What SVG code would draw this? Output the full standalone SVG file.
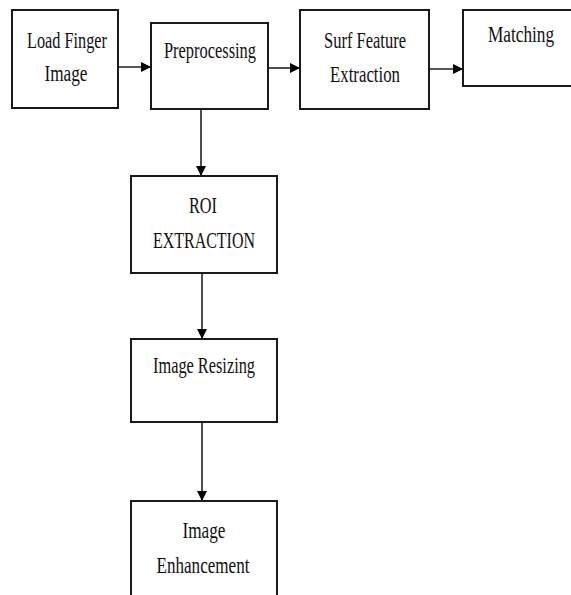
<svg xmlns="http://www.w3.org/2000/svg" width="571" height="595" viewBox="0 0 571 595">
<defs>
<marker id="ah" markerWidth="10" markerHeight="10" refX="10" refY="5" orient="auto" markerUnits="userSpaceOnUse">
<path d="M0,0 L10,5 L0,10 Z" fill="#000"/>
</marker>
<style>
.box{fill:#fff;stroke:#1a1a1a;stroke-width:2}
.t{font-family:"Liberation Serif","Times New Roman",serif;font-size:24px;fill:#111;text-anchor:middle}
.c{stroke:#222;stroke-width:1.6;fill:none;marker-end:url(#ah)}
</style>
</defs>
<rect width="571" height="595" fill="#fff"/>
<g id="connectors">
<line class="c" x1="118" y1="67" x2="151" y2="67"/>
<line class="c" x1="268" y1="68" x2="300" y2="68"/>
<line class="c" x1="429" y1="69" x2="463" y2="69"/>
<line class="c" x1="201" y1="109" x2="201" y2="176"/>
<line class="c" x1="202" y1="273" x2="202" y2="339"/>
<line class="c" x1="202" y1="422" x2="202" y2="501"/>
</g>
<g id="load">
<rect class="box" x="12" y="10" width="106" height="98"/>
<text class="t" x="67" y="48" textLength="80" lengthAdjust="spacingAndGlyphs">Load Finger</text>
<text class="t" x="66" y="81" textLength="43" lengthAdjust="spacingAndGlyphs">Image</text>
</g>
<g id="preprocessing">
<rect class="box" x="151" y="23" width="117" height="86"/>
<text class="t" x="210" y="58" textLength="92" lengthAdjust="spacingAndGlyphs">Preprocessing</text>
</g>
<g id="surf">
<rect class="box" x="300" y="10" width="129" height="99"/>
<text class="t" x="365" y="48" textLength="82" lengthAdjust="spacingAndGlyphs">Surf Feature</text>
<text class="t" x="365" y="82" textLength="70" lengthAdjust="spacingAndGlyphs">Extraction</text>
</g>
<g id="matching">
<path class="box" d="M571,10 H463 V86 H571"/>
<text class="t" transform="translate(521 42) scale(0.72 1)" x="0" y="0">Matching</text>
</g>
<g id="roi">
<rect class="box" x="131" y="176" width="146" height="97"/>
<text class="t" x="203" y="213" textLength="28" lengthAdjust="spacingAndGlyphs">ROI</text>
<text class="t" x="204" y="248" textLength="102" lengthAdjust="spacingAndGlyphs">EXTRACTION</text>
</g>
<g id="resizing">
<rect class="box" x="131" y="339" width="146" height="83"/>
<text class="t" x="204" y="373" textLength="102" lengthAdjust="spacingAndGlyphs">Image Resizing</text>
</g>
<g id="enhancement">
<path class="box" d="M131,595 V501 H277 V595"/>
<text class="t" x="204" y="538" textLength="43" lengthAdjust="spacingAndGlyphs">Image</text>
<text class="t" x="203" y="573" textLength="93" lengthAdjust="spacingAndGlyphs">Enhancement</text>
</g>
</svg>
